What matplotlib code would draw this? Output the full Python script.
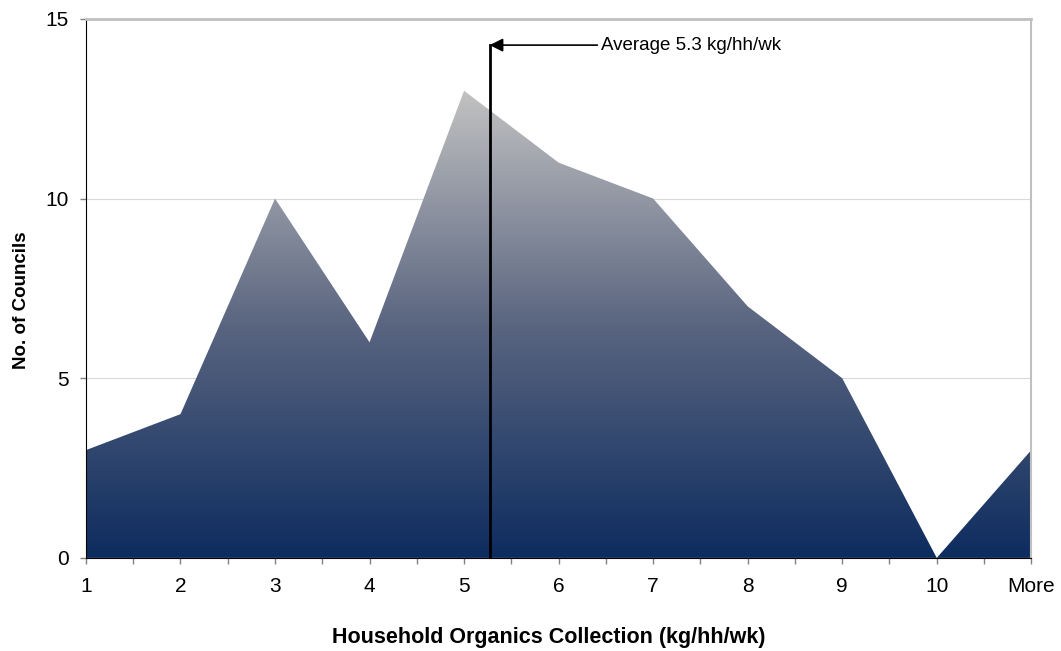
import numpy as np
import matplotlib.pyplot as plt
from matplotlib.colors import LinearSegmentedColormap
from matplotlib.patches import Polygon

plt.rcParams['font.family'] = ['Liberation Sans', 'DejaVu Sans']

# data
categories = ['1', '2', '3', '4', '5', '6', '7', '8', '9', '10', 'More']
councils = [3, 4, 10, 6, 13, 11, 10, 7, 5, 0, 3]
average = 5.27  # kg/hh/wk, shown rounded

x = np.arange(len(categories))
y = np.array(councils, dtype=float)

fig = plt.figure(figsize=(10.61, 6.51), dpi=100)
ax = fig.add_axes([0.081, 0.143, 0.891, 0.828])

# gradient fill clipped by the area polygon
cmap = LinearSegmentedColormap.from_list('navygray', ['#0d2c5f', '#5a6580', '#c2c2c2'])
grad = np.linspace(0, 1, 256).reshape(-1, 1)
im = ax.imshow(grad, cmap=cmap, origin='lower', aspect='auto',
               extent=[x[0], x[-1], 0, y.max()], zorder=2)
verts = np.vstack([np.column_stack([x, y]), [[x[-1], 0], [x[0], 0]]])
poly = Polygon(verts, closed=True, facecolor='none', edgecolor='none')
ax.add_patch(poly)
im.set_clip_path(poly)

ax.set_xlim(x[0], x[-1])
ax.set_ylim(0, 15)

# grid
for g in [5, 10]:
    ax.axhline(g, color='#d9d9d9', lw=0.8, zorder=1)

# spines
ax.spines['left'].set_color('black')
ax.spines['bottom'].set_color('black')
ax.spines['top'].set_color('#c0c0c0')
ax.spines['top'].set_linewidth(2)
ax.spines['right'].set_color('#c0c0c0')
ax.spines['right'].set_linewidth(1.5)
for s in ax.spines.values():
    s.set_zorder(5)

ax.set_yticks([0, 5, 10, 15])
ax.set_xticks(x)
ax.set_xticklabels(categories)
ax.set_xticks(x[:-1] + 0.5, minor=True)
ax.tick_params(axis='both', labelsize=15, color='#808080', length=4.5, width=1)
ax.tick_params(axis='x', which='minor', color='#808080', length=4.5, width=1)
ax.tick_params(axis='x', pad=9)
ax.tick_params(axis='y', pad=8)

ax.set_xlabel('Household Organics Collection (kg/hh/wk)', fontsize=15.5,
              fontweight='bold', labelpad=22.5)
ax.xaxis.label.set_x(0.49)
ax.set_ylabel('No. of Councils', fontsize=13.5, fontweight='bold', labelpad=11)
ax.yaxis.label.set_y(0.479)

# average line (category 1 sits at index 0)
avg_x = average - 1
ax.plot([avg_x, avg_x], [0, 14.27], color='black', lw=2, zorder=4)
ax.annotate('', xy=(avg_x, 14.27), xytext=(avg_x + 1.14, 14.27),
            arrowprops=dict(arrowstyle='-|>', color='black', lw=1.2,
                            mutation_scale=20, shrinkA=0, shrinkB=0),
            zorder=4)
ax.text(avg_x + 1.18, 14.27, f'Average {average:.1f} kg/hh/wk', fontsize=13.5,
        va='center', ha='left', zorder=4)

fig.savefig('out.png', dpi=100)
